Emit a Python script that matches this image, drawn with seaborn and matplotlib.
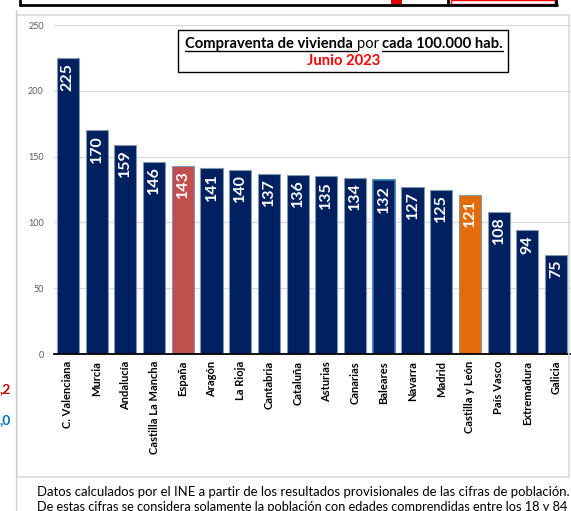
import matplotlib
matplotlib.use("Agg")
import matplotlib.pyplot as plt
import seaborn as sns
import pandas as pd
from matplotlib.lines import Line2D
from matplotlib.patches import Rectangle
from matplotlib.transforms import IdentityTransform

# Datos: compraventa de vivienda por cada 100.000 hab. (Junio 2023)
regiones = ["C. Valenciana", "Murcia", "Andalucía", "Castilla La Mancha", "España",
            "Aragón", "La Rioja", "Cantabria", "Cataluña", "Asturias", "Canarias",
            "Baleares", "Navarra", "Madrid", "Castilla y León", "País Vasco",
            "Extremadura", "Galicia"]
valores = [225, 170, 159, 146, 143, 141, 140, 137, 136, 135, 134, 132, 127, 125,
           121, 108, 94, 75]
y_ticks = [0, 50, 100, 150, 200, 250]

NAVY = "#002060"
colores = {r: NAVY for r in regiones}
colores["España"] = "#C0504D"
colores["Castilla y León"] = "#E36C09"

sns.set_theme(style="white")
plt.rcParams["font.family"] = ["Lato", "DejaVu Sans"]

W, H = 571, 511
fig = plt.figure(figsize=(W / 100, H / 100), dpi=100)
ident = IdentityTransform()


def px(x, y):
    # pixel coordinates from top-left -> display coords
    return x, H - y


# panel borders around the chart (document frame)
fig.add_artist(Rectangle(px(17, 477), 552, 462, transform=ident, fill=False,
                         edgecolor="#D9D9D9", lw=1.2))
fig.add_artist(Line2D([16, 16], [0, H - 10], transform=ident, color="#D0D0D0", lw=1))

# fragments of the page above
fig.add_artist(Line2D([20, 557], [H - 5, H - 5], transform=ident, color="black", lw=2))
fig.add_artist(Line2D([20, 20], [H - 5, H], transform=ident, color="black", lw=2))
fig.add_artist(Line2D([448, 448], [H - 5, H], transform=ident, color="black", lw=2))
fig.add_artist(Line2D([556, 556], [H - 5, H], transform=ident, color="black", lw=2))
fig.add_artist(Rectangle((451, H - 3.5), 104, 4, transform=ident, fill=False,
                         edgecolor="red", lw=1))
fig.add_artist(Rectangle((391, H - 4), 11, 4, transform=ident, color="#E00000", lw=0))

# fragments of the page on the left
fig.text(-1, H - 389, ",2", transform=ident, color="#C00000", fontsize=10,
         fontweight="bold", va="center", ha="left")
fig.text(-1, H - 420, ",0", transform=ident, color="#0070C0", fontsize=10,
         fontweight="bold", va="center", ha="left")

# main axes
ax = fig.add_axes([53.5 / W, 1 - 354 / H, 517 / W, 329 / H])
df = pd.DataFrame({"region": regiones, "valor": valores})
sns.barplot(data=df, x="region", y="valor", hue="region", palette=colores,
            saturation=1, dodge=False, legend=False, width=0.77, ax=ax, zorder=2,
            edgecolor="#8497B0", linewidth=0.8)
for patch, reg in zip(ax.patches, regiones):
    if reg == "Baleares":
        patch.set_edgecolor("#2E75B6")
        patch.set_linewidth(1.2)

ax.set_ylim(0, 250)
ax.set_xlim(-0.5, len(regiones) - 0.5)
ax.set_yticks(y_ticks)
ax.set_yticklabels([str(t) for t in y_ticks], fontsize=6.5, color="#595959")
ax.yaxis.grid(True, color="#D9D9D9", lw=0.9, zorder=0)
ax.set_axisbelow(True)
ax.set_xlabel("")
ax.set_ylabel("")
ax.tick_params(axis="y", length=0, pad=7)
ax.tick_params(axis="x", length=0, pad=5)
ax.set_xticks(range(len(regiones)))
ax.set_xticklabels(regiones, rotation=90, fontsize=8, fontweight="bold",
                   color="black", va="top")
for s in ["top", "right", "left"]:
    ax.spines[s].set_visible(False)
ax.spines["bottom"].set_color("black")
ax.spines["bottom"].set_linewidth(1.3)

for i, v in enumerate(valores):
    ax.text(i, v - 3.5, str(v), rotation=90, ha="center", va="top",
            color="white", fontsize=11.5, fontweight="bold", zorder=3)

# title box with underlined pieces
fig.add_artist(Rectangle(px(178, 72), 330, 42, transform=ident, fill=False,
                         edgecolor="black", lw=1))
renderer = fig.canvas.get_renderer()
piezas = [("Compraventa de vivienda ", "bold", True), ("por ", "normal", False),
          ("cada 100.000 hab.", "bold", True)]
base_y = H - 48
textos = []
for s, peso, sub in piezas:
    t = fig.text(0, base_y, s, transform=ident, fontsize=10.6, fontweight=peso,
                 va="baseline", ha="left", color="black")
    textos.append((t, sub))
anchos = [t.get_window_extent(renderer).width for t, _ in textos]
x0 = 344 - sum(anchos) / 2
for (t, sub), w in zip(textos, anchos):
    t.set_x(x0)
    if sub:
        fig.add_artist(Line2D([x0, x0 + w], [base_y - 3, base_y - 3],
                              transform=ident, color="black", lw=1))
    x0 += w
fig.text(344, H - 61, "Junio 2023", transform=ident, fontsize=10.6,
         fontweight="bold", color="#FF0000", ha="center", va="center")

# footnote text below the chart (justified to the same width)
notas = ["Datos calculados por el INE a partir de los resultados "
         "provisionales de las cifras de población.",
         "De estas cifras se considera solamente la población con "
         "edades comprendidas entre los 18 y 84"]
for k, nota in enumerate(notas):
    t = fig.text(37, H - 492 - 15 * k, nota, transform=ident, fontsize=9.4,
                 color="black", va="center", ha="left")
    w = t.get_window_extent(renderer).width
    t.set_fontsize(9.4 * 529 / w)

fig.savefig("out.png", dpi=100)
